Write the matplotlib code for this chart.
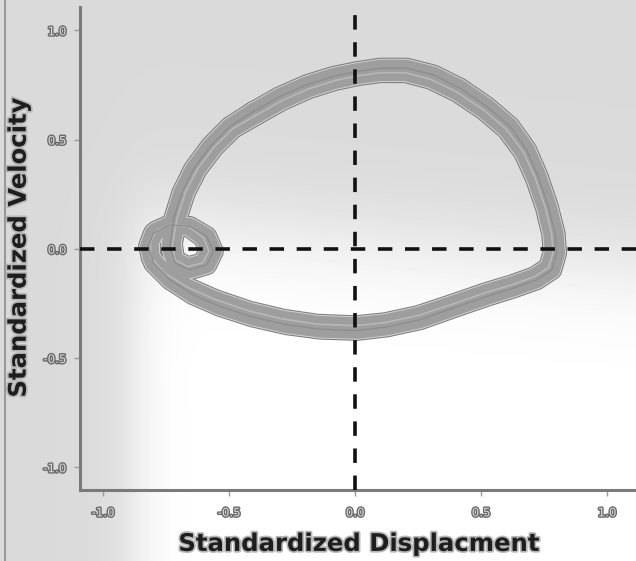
import matplotlib.pyplot as plt
import matplotlib.patheffects as pe
from matplotlib.lines import Line2D
import numpy as np

# phase-portrait trajectory (two passes around the loop)
disp_a = [-0.404, -0.298, -0.192, -0.086, 0.007, 0.099, 0.205, 0.311, 0.417,
          0.523, 0.615, 0.681, 0.727, 0.767, 0.794, 0.800, 0.781, 0.721, 0.628,
          0.523, 0.390, 0.258, 0.126, 0.007, -0.139, -0.271, -0.404, -0.536,
          -0.642, -0.734, -0.800, -0.820, -0.800, -0.734, -0.655, -0.588,
          -0.562, -0.588, -0.655, -0.714, -0.734, -0.721, -0.688, -0.642,
          -0.575, -0.496, -0.404]
vel_a = [0.628, 0.697, 0.751, 0.789, 0.811, 0.827, 0.827, 0.796, 0.735,
         0.651, 0.560, 0.453, 0.331, 0.194, 0.072, -0.020, -0.096, -0.142, -0.180,
         -0.218, -0.271, -0.325, -0.358, -0.374, -0.368, -0.348, -0.313, -0.264,
         -0.211, -0.142, -0.065, 0.011, 0.072, 0.110, 0.102, 0.056,
         -0.012, -0.073, -0.096, -0.065, 0.011, 0.133, 0.255, 0.362,
         0.468, 0.560, 0.628]

disp_b = [-0.395, -0.290, -0.185, -0.080, 0.010, 0.100, 0.200, 0.300, 0.405,
          0.510, 0.600, 0.668, 0.715, 0.755, 0.780, 0.786, 0.768, 0.712, 0.622,
          0.515, 0.385, 0.252, 0.120, 0.000, -0.150, -0.285, -0.420, -0.555,
          -0.665, -0.755, -0.810, -0.812, -0.790, -0.730, -0.660, -0.600,
          -0.580, -0.605, -0.665, -0.715, -0.725, -0.706, -0.672, -0.625,
          -0.560, -0.485, -0.395]
vel_b = [0.610, 0.678, 0.732, 0.770, 0.792, 0.806, 0.806, 0.776, 0.717,
         0.636, 0.548, 0.443, 0.324, 0.190, 0.070, -0.016, -0.085, -0.128, -0.165,
         -0.202, -0.254, -0.305, -0.338, -0.352, -0.345, -0.322, -0.285, -0.232,
         -0.176, -0.112, -0.040, 0.030, 0.082, 0.112, 0.100, 0.050,
         -0.012, -0.065, -0.082, -0.050, 0.020, 0.140, 0.262, 0.366,
         0.465, 0.550, 0.610]

xticks = [-1.0, -0.5, 0.0, 0.5, 1.0]
yticks = [-1.0, -0.5, 0.0, 0.5, 1.0]
tick_labels = ['-1.0', '-0.5', '0.0', '0.5', '1.0']

fig = plt.figure(figsize=(6.36, 5.61), dpi=100)

# screenshot-like background: grey on top/left, white lower right
bg = fig.add_axes([0, 0, 1, 1], zorder=-10)
px, py = np.meshgrid(np.arange(636), np.arange(561))
w = 1 / (1 + np.exp(-(py - 215 - 0.1 * (px - 100)) / 28))
w *= 1 / (1 + np.exp(-(px - 135) / 14))
gray = 0.855 + (1 - 0.855) * w
bg.imshow(gray, cmap='gray', vmin=0, vmax=1, aspect='auto', interpolation='bilinear')
bg.axis('off')
fig.add_artist(Line2D([0.008, 0.008], [0, 1], color='#9a9a9a', lw=1.5))

ax = fig.add_axes([0.126, 0.127, 0.874, 0.861])
ax.patch.set_alpha(0)

for x, y in [(disp_a, vel_a), (disp_b, vel_b)]:
    ax.plot(x, y, color='#7c7c7c', lw=15, solid_joinstyle='round',
            solid_capstyle='round', zorder=2)
for x, y in [(disp_a, vel_a), (disp_b, vel_b)]:
    ax.plot(x, y, color='#d0d0d0', lw=13.5, solid_joinstyle='round',
            solid_capstyle='round', zorder=2)
for x, y in [(disp_a, vel_a), (disp_b, vel_b)]:
    ax.plot(x, y, color='#9e9e9e', lw=12, solid_joinstyle='round',
            solid_capstyle='round', zorder=2)
ax.plot(disp_b, vel_b, color='#b8b8b8', lw=1.2, zorder=3)
ax.plot(disp_a, vel_a, color='#8c8c8c', lw=0.9, zorder=3)

ax.axvline(0, color='#111111', lw=2.6, ls=(0, (4, 3.5)), zorder=4)
ax.axhline(0, color='#111111', lw=2.6, ls=(0, (4, 3.5)), zorder=4)

ax.set_xlim(-1.091, 1.115)
ax.set_ylim(-1.103, 1.108)
ax.set_xticks(xticks)
ax.set_yticks(yticks)
ax.set_xticklabels(tick_labels)
ax.set_yticklabels(tick_labels)

for s in ['top', 'right']:
    ax.spines[s].set_visible(False)
for s in ['left', 'bottom']:
    ax.spines[s].set_color('#7a7a7a')
    ax.spines[s].set_linewidth(2.2)

ax.tick_params(colors='#9a9a9a', length=4, width=1, labelsize=8.5,
               labelcolor='#dadada')
ax.tick_params(axis='x', pad=8)
ax.tick_params(axis='y', pad=6)
outline = [pe.withStroke(linewidth=2, foreground='#6a6a6a')]
for lab in ax.get_xticklabels() + ax.get_yticklabels():
    lab.set_path_effects(outline)

glow = [pe.withStroke(linewidth=2.5, foreground='#b8b8b8')]
ax.set_xlabel('Standardized Displacment', fontsize=17.5, fontweight='bold',
              color='#1e1e1e', labelpad=9, path_effects=glow)
ax.set_ylabel('Standardized Velocity', fontsize=17.5, fontweight='bold',
              color='#1e1e1e', labelpad=9, path_effects=glow)

fig.savefig('out.png', dpi=100)
